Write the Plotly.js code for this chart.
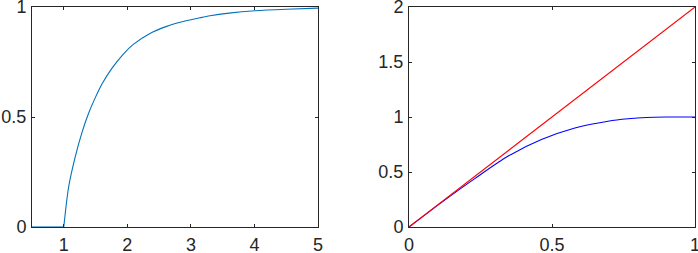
<!DOCTYPE html>
<html><head><meta charset="utf-8">
<script src="https://cdn.plot.ly/plotly-3.0.1.min.js"></script>
<style>html,body{margin:0;padding:0;background:#fff}#plot{width:698px;height:253px}</style>
</head><body><div id="plot"></div>
<script>
// Left panel curve
const leftX = [0.5, 1.0, 1.077, 1.181, 1.287, 1.392, 1.496, 1.601, 1.754, 1.937, 2.094, 2.356, 2.619, 2.88, 3.143, 3.30, 3.6, 4.01, 4.5, 5.0];
const leftY = [0, 0, 0.183, 0.32, 0.43, 0.518, 0.588, 0.65, 0.72, 0.786, 0.83, 0.88, 0.912, 0.934, 0.951, 0.96, 0.972, 0.983, 0.99, 0.995];
// Right panel: red line and blue curve
const redX = [0, 1];
const redY = [0, 2];
const blueX = [0, 0.05, 0.114, 0.23, 0.347, 0.463, 0.58, 0.696, 0.766, 0.83, 0.9, 1.0];
const blueY = [0, 0.099, 0.224, 0.44, 0.645, 0.795, 0.9, 0.962, 0.984, 0.996, 1.0, 1.0];
// Tick values
const leftXTicks = [1, 2, 3, 4, 5];
const leftYTicks = [0, 0.5, 1];
const rightXTicks = [0, 0.5, 1];
const rightYTicks = [0, 0.5, 1, 1.5, 2];

const axCol = '#262626';
const font = {family: 'Liberation Sans, Arial, sans-serif', size: 18, color: '#262626'};
function ax(domain, range, ticks, anchor) {
  return {domain: domain, range: range, tickvals: ticks, ticktext: ticks.map(String),
    ticks: 'inside', ticklen: 3, tickwidth: 1, tickcolor: axCol,
    showline: true, linecolor: axCol, linewidth: 1, mirror: 'ticks',
    ticklabeloverflow: 'allow', ticklabelstandoff: 1,
    showgrid: false, zeroline: false, anchor: anchor, tickfont: font, fixedrange: true};
}
const traces = [
  {x: leftX.slice(0, 2), y: leftY.slice(0, 2), type: 'scatter', mode: 'lines', line: {color: '#0072BD', width: 1.1}, xaxis: 'x', yaxis: 'y', cliponaxis: false},
  {x: leftX.slice(1), y: leftY.slice(1), type: 'scatter', mode: 'lines', line: {color: '#0072BD', width: 1.1, shape: 'spline', smoothing: 0.8}, xaxis: 'x', yaxis: 'y', cliponaxis: false},
  {x: blueX, y: blueY, type: 'scatter', mode: 'lines', line: {color: '#0000FF', width: 1.1, shape: 'spline', smoothing: 0.8}, xaxis: 'x2', yaxis: 'y2', cliponaxis: false},
  {x: redX, y: redY, type: 'scatter', mode: 'lines', line: {color: '#FF0000', width: 1.1}, xaxis: 'x2', yaxis: 'y2', cliponaxis: false}
];
const layout = {
  width: 698, height: 253, margin: {l: 0, r: 0, t: 0, b: 0},
  paper_bgcolor: '#fff', plot_bgcolor: '#fff', showlegend: false, font: font,
  xaxis: ax([32/698, 318/698], [0.5, 5], leftXTicks, 'y'),
  yaxis: ax([1-227/253, 1-7/253], [0, 1], leftYTicks, 'x'),
  xaxis2: ax([409/698, 695/698], [0, 1], rightXTicks, 'y2'),
  yaxis2: ax([1-227/253, 1-7/253], [0, 2], rightYTicks, 'x2')
};
Plotly.newPlot('plot', traces, layout, {displayModeBar: false, staticPlot: true});
</script></body></html>
